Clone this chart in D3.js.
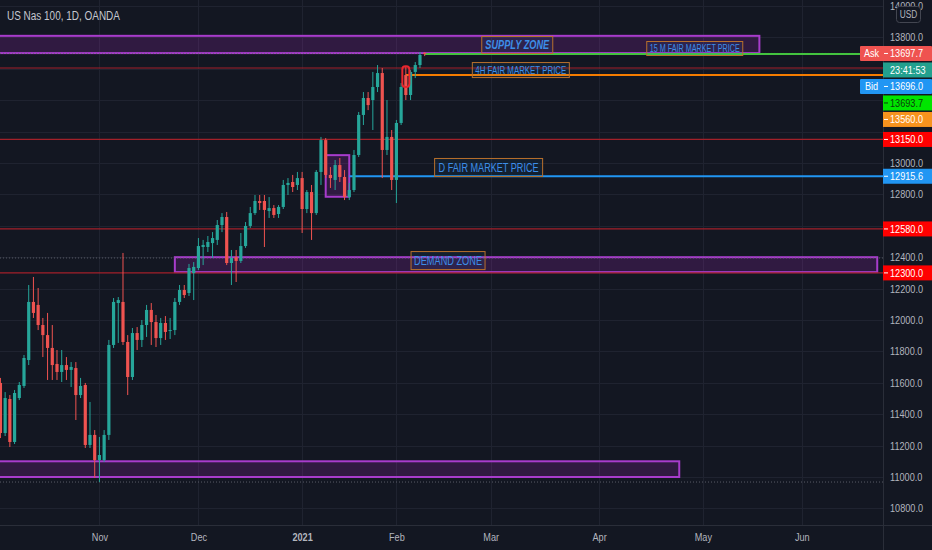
<!DOCTYPE html>
<html><head><meta charset="utf-8">
<script src="https://cdn.jsdelivr.net/npm/d3@7"></script>
<style>
html,body{margin:0;padding:0;background:#131722;}
svg{display:block;}
text{font-family:"Liberation Sans Narrow","Liberation Sans",Arial,sans-serif;}
</style></head><body>
<svg id="c" width="932" height="550"></svg>
<script>
// ---------- DATA ----------
const title = "US Nas 100, 1D, OANDA";
const dates = [
"2020-10-02","2020-10-05","2020-10-06","2020-10-07","2020-10-08","2020-10-09","2020-10-12","2020-10-13","2020-10-14","2020-10-15","2020-10-16","2020-10-19","2020-10-20","2020-10-21","2020-10-22","2020-10-23","2020-10-26","2020-10-27","2020-10-28","2020-10-29","2020-10-30",
"2020-11-02","2020-11-03","2020-11-04","2020-11-05","2020-11-06","2020-11-09","2020-11-10","2020-11-11","2020-11-12","2020-11-13","2020-11-16","2020-11-17","2020-11-18","2020-11-19","2020-11-20","2020-11-23","2020-11-24","2020-11-25","2020-11-26","2020-11-27","2020-11-30",
"2020-12-01","2020-12-02","2020-12-03","2020-12-04","2020-12-07","2020-12-08","2020-12-09","2020-12-10","2020-12-11","2020-12-14","2020-12-15","2020-12-16","2020-12-17","2020-12-18","2020-12-21","2020-12-22","2020-12-23","2020-12-24","2020-12-28","2020-12-29","2020-12-30","2020-12-31",
"2021-01-04","2021-01-05","2021-01-06","2021-01-07","2021-01-08","2021-01-11","2021-01-12","2021-01-13","2021-01-14","2021-01-15","2021-01-18","2021-01-19","2021-01-20","2021-01-21","2021-01-22","2021-01-25","2021-01-26","2021-01-27","2021-01-28","2021-01-29",
"2021-02-01","2021-02-02","2021-02-03","2021-02-04","2021-02-05","2021-02-08","2021-02-09"];
const open = [11599,11280,11497,11223,11503,11580,11745,12115,12096,11968,11904,11822,11720,11669,11713,11682,11694,11522,11586,11204,11268,
11108,11108,11268,11841,12108,12115,11860,11637,11917,11873,11968,12064,11987,11885,11981,11930,11936,12115,12191,12172,12299,
12331,12465,12465,12490,12510,12605,12656,12363,12401,12376,12471,12599,12681,12758,12758,12694,12713,12675,12720,12860,12879,12860,
12904,12707,12815,12681,12943,13146,12924,12892,12987,12911,12783,12828,13051,13306,13414,13401,13484,13573,13083,13166,
12892,13255,13560,13433,13580,13624,13701];
const high = [11631,11541,11522,11554,11605,11777,12223,12274,12204,12013,12045,11968,11809,11809,11764,11732,11732,11631,11599,11478,11299,
11255,11299,11873,12140,12146,12427,11904,11949,11955,12000,12096,12108,12032,12013,12025,12013,12140,12223,12223,12357,12369,
12522,12510,12535,12560,12637,12681,12688,12446,12446,12554,12624,12720,12796,12796,12796,12783,12732,12732,12892,12904,12924,12943,
12943,12828,12860,12955,13166,13159,12974,13019,13032,12955,12873,13083,13325,13452,13452,13580,13624,13605,13401,13210,
13274,13509,13618,13592,13643,13707,13707];
const low = [11248,11261,11191,11210,11490,11567,11713,12013,11936,11764,11618,11618,11618,11605,11618,11573,11363,11503,11185,11185,10994,
10968,11096,11236,11822,11854,11841,11522,11618,11809,11828,11892,11841,11828,11841,11873,11879,11904,12096,12140,12153,12127,
12318,12350,12433,12395,12478,12560,12350,12223,12242,12363,12459,12586,12669,12701,12465,12650,12650,12650,12707,12796,12815,12828,
12554,12681,12510,12669,12860,12904,12841,12828,12879,12764,12764,12815,13038,13242,13337,13210,13452,12904,13051,12828,
12745,13242,13401,13401,13541,13605,13681];
const close = [11280,11503,11223,11535,11586,11758,12115,12045,11968,11904,11822,11713,11669,11713,11682,11701,11522,11580,11204,11268,11108,
11140,11268,11841,12115,12127,11860,11637,11917,11873,11968,12064,11987,11885,11981,11924,11936,12115,12191,12159,12331,12338,
12471,12478,12497,12522,12605,12656,12363,12395,12376,12471,12599,12681,12758,12745,12701,12713,12669,12720,12860,12873,12847,12904,
12707,12815,12681,12943,13146,12924,12904,12987,12911,12783,12828,13051,13306,13414,13369,13484,13573,13083,13166,12892,
13255,13484,13433,13580,13624,13688,13694];

const holidays = ["2020-12-25","2021-01-01"];
const yTicks = d3.range(10800, 14001, 200);
const monthKeys = ["2020-11","2020-12","2021-01","2021-02","2021-03","2021-04","2021-05","2021-06"];
const monthLabels = ["Nov","Dec","2021","Feb","Mar","Apr","May","Jun"];

// zones (rectangles drawn by user)
const zoneStart  = ["2020-09-01","2020-11-24","2020-09-01","2021-01-11"];
const zoneEnd    = ["2021-05-19","2021-06-23","2021-04-26","2021-01-18"];
const zoneTop    = [13810, 12400, 11100, 13050];
const zoneBottom = [13700, 12305, 11000, 12785];

// horizontal levels
const levelValues = [13605, 13150, 12580, 12300, 13560, 13693.7, 12915.6];
const levelStart  = ["2020-09-01","2020-09-01","2020-09-01","2020-09-01","2021-02-03","2021-02-09","2021-01-18"];
const dottedValues = [13697.7, 12395, 10968];

// highlighted candle box
const highlightDate = "2021-02-03";
const highlightTop = 13617, highlightBottom = 13484;

// annotations
const annoTexts  = ["SUPPLY ZONE","15 M FAIR MARKET PRICE","4H FAIR MARKET PRICE","D FAIR MARKET PRICE","DEMAND ZONE"];
const annoDates  = ["2021-02-25","2021-04-15","2021-02-23","2021-02-11","2021-02-04"];
const annoPrices = [13809, 13777, 13643, 13032, 12439];

// right-axis price labels
const priceLabelPrefix = ["Ask","","Bid","","","","","",""];
const priceLabelValues = [13697.7, 13697.7, 13696.0, 13693.7, 13560.0, 13150.0, 12915.6, 12580.0, 12300.0];
const priceLabelTexts  = ["13697.7","23:41:53","13696.0","13693.7","13560.0","13150.0","12915.6","12580.0","12300.0"];

// ---------- STYLES ----------
const levelColors = ["#a3212a","#a3212a","#a3212a","#a3212a","#f57c00","#43c43f","#2196f3"];
const levelWidths = [1.2,1.2,1.2,1.2,2,2,2];
const annoStyle = [
  {w:71,h:17,fs:12,italic:true,bold:true,tl:64},
  {w:96,h:14,fs:10,tl:90},
  {w:97,h:15,fs:11,tl:91},
  {w:108,h:18,fs:12,tl:100},
  {w:74,h:18,fs:12,tl:68}
];
const labelBg = ["#ef5350","#22a08e","#2196f3","#00e600","#f7931e","#ff0000","#2196f3","#ff0000","#ff0000"];
const labelFg = ["#fff","#fff","#fff","#0b3d0b","#fff","#fff","#fff","#fff","#fff"];

// ---------- CHART ----------
const W = 932, H = 550, plotR = 883, plotB = 525;
const svg = d3.select("#c");
svg.append("rect").attr("width", W).attr("height", H).attr("fill", "#131722");

// horizontal compression factor so fonts look like the narrow UI font
const probe = svg.append("text").attr("font-size", 11).text("13800.0");
const NARROW = 33 / probe.node().getComputedTextLength();
probe.remove();
function narrow(sel) {
  sel.each(function () {
    const l = this.getComputedTextLength();
    if (NARROW < 0.98) d3.select(this).attr("textLength", l * NARROW).attr("lengthAdjust", "spacingAndGlyphs");
  });
}

const fmt = d3.timeFormat("%Y-%m-%d");
const cal = d3.timeDay.range(new Date(2020, 8, 1), new Date(2021, 7, 1))
  .filter(d => d.getDay() % 6 !== 0 && !holidays.includes(fmt(d)));
const idx = new Map(cal.map((d, i) => [fmt(d), i]));
const i0 = idx.get(dates[0]);
const step = 4.714;
const x = d3.scaleLinear().domain([i0, i0 + 1]).range([0.43, 0.43 + step]);
const xd = s => x(idx.get(s));
const y = d3.scaleLinear().domain([10800, 14000]).range([508.4, 6.0]);

svg.append("defs").append("clipPath").attr("id", "plot")
  .append("rect").attr("x", 0).attr("y", 0).attr("width", plotR).attr("height", plotB);

const monthIdx = monthKeys.map(k => cal.findIndex(d => fmt(d).startsWith(k)));

// grid
const grid = svg.append("g").attr("clip-path", "url(#plot)");
grid.selectAll("line.h").data(yTicks).join("line")
  .attr("x1", 0).attr("x2", plotR).attr("y1", d => Math.round(y(d)) + 0.5).attr("y2", d => Math.round(y(d)) + 0.5)
  .attr("stroke", "#1f2330").attr("stroke-width", 1);
grid.selectAll("line.v").data(monthIdx).join("line")
  .attr("y1", 0).attr("y2", plotB).attr("x1", d => Math.round(x(d)) + 0.5).attr("x2", d => Math.round(x(d)) + 0.5)
  .attr("stroke", "#1f2330").attr("stroke-width", 1);

const plot = svg.append("g").attr("clip-path", "url(#plot)");

// zones
zoneTop.forEach((t, i) => {
  const x1 = xd(zoneStart[i]), x2 = xd(zoneEnd[i]);
  plot.append("rect")
    .attr("x", x1).attr("y", y(t)).attr("width", x2 - x1).attr("height", y(zoneBottom[i]) - y(t))
    .attr("fill", "rgba(156,39,176,0.22)").attr("stroke", "#a83ccc").attr("stroke-width", 2);
});

// dotted lines
plot.selectAll("line.dot").data(dottedValues).join("line")
  .attr("x1", 0).attr("x2", plotR).attr("y1", d => y(d)).attr("y2", d => y(d))
  .attr("stroke", "#6a6d78").attr("stroke-width", 1).attr("stroke-dasharray", "1,2").attr("opacity", 0.8);

// levels
levelValues.forEach((v, i) => {
  plot.append("line")
    .attr("x1", xd(levelStart[i])).attr("x2", plotR).attr("y1", y(v)).attr("y2", y(v))
    .attr("stroke", levelColors[i]).attr("stroke-width", levelWidths[i]);
});

// candles
const up = "#26a69a", down = "#ef5350";
const candles = plot.append("g");
dates.forEach((d, i) => {
  const cx = xd(d);
  const col = close[i] >= open[i] ? up : down;
  candles.append("line").attr("x1", cx).attr("x2", cx).attr("y1", y(high[i])).attr("y2", y(low[i]))
    .attr("stroke", col).attr("stroke-width", 1);
  const top = y(Math.max(open[i], close[i])), bot = y(Math.min(open[i], close[i]));
  candles.append("rect").attr("x", cx - 1.6).attr("width", 3.2)
    .attr("y", top).attr("height", Math.max(1, bot - top)).attr("fill", col);
});

// highlight box
{
  const hx = xd(highlightDate);
  plot.append("rect").attr("x", hx - 3.5).attr("width", 7)
    .attr("y", y(highlightTop)).attr("height", y(highlightBottom) - y(highlightTop))
    .attr("rx", 3).attr("fill", "none").attr("stroke", "#e8262e").attr("stroke-width", 2);
}

// annotations
annoTexts.forEach((t, i) => {
  const s = annoStyle[i];
  const ax = xd(annoDates[i]), ay = y(annoPrices[i]);
  plot.append("rect").attr("x", ax + 0.5).attr("y", ay + 0.5).attr("width", s.w).attr("height", s.h)
    .attr("fill", "rgba(33,150,243,0.07)").attr("stroke", "#b8702c").attr("stroke-width", 1);
  plot.append("text").attr("x", ax + 0.5 + s.w / 2).attr("y", ay + s.h / 2 + 0.5)
    .attr("dy", "0.36em").attr("text-anchor", "middle")
    .attr("font-size", s.fs).attr("font-style", s.italic ? "italic" : "normal")
    .attr("font-weight", s.bold ? "bold" : "normal")
    .attr("textLength", s.tl).attr("lengthAdjust", "spacingAndGlyphs")
    .attr("fill", "#3d8ee8").text(t);
});

// axis frame
svg.append("line").attr("x1", plotR + 0.5).attr("x2", plotR + 0.5).attr("y1", 0).attr("y2", H)
  .attr("stroke", "#2a2e39");
svg.append("line").attr("x1", 0).attr("x2", W).attr("y1", plotB + 0.5).attr("y2", plotB + 0.5)
  .attr("stroke", "#2a2e39");

// price label layout (stacked so they don't collide)
const lh = 15, gap = 1.5;
let prevBottom = -Infinity;
const labelBoxes = priceLabelValues.map(v => {
  const c = Math.max(y(v), prevBottom + gap + lh / 2);
  prevBottom = c + lh / 2;
  return c;
});

// y axis tick labels (ticks fully hidden under price labels are skipped)
const visibleTicks = yTicks.filter(t => labelBoxes.every(c => Math.abs(y(t) - c) > lh / 2 + 4));
const yAxis = d3.axisRight(y).tickValues(visibleTicks).tickFormat(d3.format(".1f")).tickSize(0).tickPadding(0);
const ya = svg.append("g").attr("transform", `translate(${plotR + 7},0)`).call(yAxis);
ya.select(".domain").remove();
ya.selectAll("text").attr("fill", "#b2b5be").attr("font-size", 11)
  .attr("font-family", '"Liberation Sans Narrow","Liberation Sans",Arial,sans-serif').call(narrow);

// x axis
const xAxis = d3.axisBottom(x).tickValues(monthIdx).tickFormat((d, i) => monthLabels[i]).tickSize(0).tickPadding(8);
const xa = svg.append("g").attr("transform", `translate(0,${plotB})`).call(xAxis);
xa.select(".domain").remove();
xa.selectAll("text").attr("fill", "#b2b5be").attr("font-size", 11)
  .attr("font-family", '"Liberation Sans Narrow","Liberation Sans",Arial,sans-serif')
  .attr("font-weight", (d, i) => monthLabels[i] === "2021" ? "bold" : "normal").call(narrow);

// price labels
priceLabelValues.forEach((v, i) => {
  const c = labelBoxes[i];
  const top = c - lh / 2;
  const hasPrefix = priceLabelPrefix[i] !== "";
  const bx = hasPrefix ? 860 : plotR;
  svg.append("rect").attr("x", bx).attr("y", top).attr("width", W - bx).attr("height", lh)
    .attr("fill", labelBg[i]).attr("rx", hasPrefix ? 1 : 0);
  if (hasPrefix) {
    svg.append("text").attr("x", 871.5).attr("y", c).attr("dy", "0.35em").attr("text-anchor", "middle")
      .attr("font-size", 11).attr("fill", labelFg[i]).text(priceLabelPrefix[i]).call(narrow);
  }
  if (priceLabelTexts[i].indexOf(":") < 0) {
    svg.append("line").attr("x1", plotR + 1).attr("x2", plotR + 5).attr("y1", c).attr("y2", c)
      .attr("stroke", labelFg[i]).attr("stroke-width", 1);
  }
  svg.append("text").attr("x", plotR + 7).attr("y", c).attr("dy", "0.35em")
    .attr("font-size", 11).attr("fill", labelFg[i]).text(priceLabelTexts[i]).call(narrow);
});

// USD box
svg.append("rect").attr("x", 896.5).attr("y", 6.5).attr("width", 24).attr("height", 16).attr("rx", 3)
  .attr("fill", "#131722").attr("stroke", "#434651");
svg.append("text").attr("x", 908.5).attr("y", 14.5).attr("dy", "0.35em").attr("text-anchor", "middle")
  .attr("font-size", 10).attr("fill", "#b2b5be").text("USD").call(narrow);

// title
svg.append("text").attr("x", 7).attr("y", 20).attr("font-size", 12).attr("font-weight", 500)
  .attr("fill", "#c5c8d0").text(title).call(narrow);
</script>
</body></html>
